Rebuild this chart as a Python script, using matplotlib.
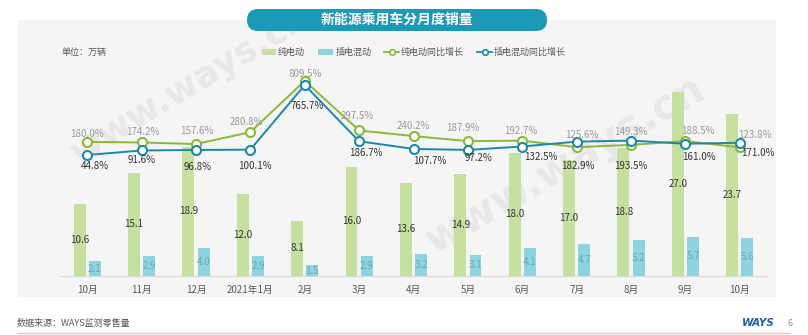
import matplotlib
matplotlib.use("Agg")
import matplotlib.pyplot as plt
from matplotlib.patches import Rectangle, FancyBboxPatch
from matplotlib.lines import Line2D

plt.rcParams['font.family'] = ['Noto Sans CJK SC', 'DejaVu Sans']

# data (万辆, %)
months = ['10月', '11月', '12月', '2021年1月', '2月', '3月', '4月',
          '5月', '6月', '7月', '8月', '9月', '10月']
bev = [10.6, 15.1, 18.9, 12.0, 8.1, 16.0, 13.6, 14.9, 18.0, 17.0, 18.8, 27.0, 23.7]
phev = [2.1, 2.9, 4.0, 2.9, 1.5, 2.9, 3.2, 3.1, 4.1, 4.7, 5.2, 5.7, 5.6]
bev_yoy = [180.0, 174.2, 157.6, 280.8, 809.5, 297.5, 240.2, 187.9, 192.7, 125.6, 149.3, 188.5, 123.8]
phev_yoy = [44.8, 91.6, 96.8, 100.1, 765.7, 186.7, 107.7, 97.2, 132.5, 182.9, 193.5, 161.0, 171.0]

# label nudges in pixels (dx, dy)
bev_off = [(0, 8), (1, 10), (1, 13), (-4, 10), (0, 7), (-2, 14), (0, 10),
           (-5, 13), (-2, 10), (5, 12), (0, 13), (12, 10), (15, 12)]
phev_off = [(8, -11), (0, -10), (2, -17), (5, -16), (2, -21), (7, -12), (16, -12),
            (11, -8), (19, -10), (1, -24), (0, -25), (13, -13), (18, -10)]

c_bev = '#c5e0a0'
c_phev = '#8ed4de'
c_bev_line = '#8ab83a'
c_phev_line = '#1f87aa'

W, H = 808, 335
fig = plt.figure(figsize=(W / 100, H / 100), dpi=100)
tr = fig.dpi_scale_trans


def px(x, y):
    return x / 100, (H - y) / 100


# grey panel
fig.patches.append(Rectangle(px(17, 297), 7.59, 2.77, transform=tr,
                             facecolor='#f5f5f5', edgecolor='none', zorder=0))

# watermark
fig.text(*px(190, 85), 'www.ways.cn', transform=tr, rotation=31, fontsize=26,
         fontweight='bold', color='#d8d8d8', alpha=0.45, ha='center', va='center',
         family='DejaVu Sans', zorder=1)
fig.text(*px(565, 165), 'www.ways.cn', transform=tr, rotation=30, fontsize=30,
         fontweight='bold', color='#d8d8d8', alpha=0.45, ha='center', va='center',
         family='DejaVu Sans', zorder=1)

# title pill
fig.patches.append(FancyBboxPatch(px(247, 31), 3.0, 0.22, transform=tr,
                                  boxstyle='round,pad=0,rounding_size=0.11',
                                  facecolor='#1b9ab6', edgecolor='none', zorder=2))
fig.text(*px(397, 20), '新能源乘用车分月度销量', transform=tr, color='white',
         fontsize=10, fontweight='bold', ha='center', va='center', zorder=3)

fig.text(*px(62, 52), '单位：万辆', transform=tr, fontsize=6.5, color='#595959',
         va='center')

# legend
fig.patches.append(Rectangle(px(262, 55), 0.14, 0.06, transform=tr,
                             facecolor=c_bev, edgecolor='none'))
fig.text(*px(278, 52), '纯电动', transform=tr, fontsize=6.5, color='#595959', va='center')
fig.patches.append(Rectangle(px(318, 55), 0.15, 0.06, transform=tr,
                             facecolor=c_phev, edgecolor='none'))
fig.text(*px(336, 52), '插电混动', transform=tr, fontsize=6.5, color='#595959', va='center')
for x0, col, lab in [(384, c_bev_line, '纯电动同比增长'), (477, c_phev_line, '插电混动同比增长')]:
    xa, ya = px(x0, 52)
    fig.lines.append(Line2D([xa, xa + 0.15], [ya, ya], transform=tr, color=col, lw=1.3))
    fig.lines.append(Line2D([xa + 0.075], [ya], transform=tr, color=col, marker='o',
                            ms=4, mfc='white', mec=col, mew=1.2, lw=0))
    fig.text(xa + 0.17, ya, lab, transform=tr, fontsize=6.5, color='#595959', va='center')

# main axes
ax = fig.add_axes([60 / W, (H - 275.7) / H, 707 / W, 215.7 / H])
ax.set_zorder(5)
ax.patch.set_alpha(0)
x = list(range(len(months)))
bw = 0.22
xb = [i - 0.14 for i in x]
xp = [i + 0.14 for i in x]
ax.bar(xb, bev, width=bw, color=c_bev, zorder=2)
ax.bar(xp, phev, width=bw, color=c_phev, zorder=2)
for xi, v in zip(xb, bev):
    ax.text(xi, v / 2, f'{v:.1f}', ha='center', va='center', fontsize=7, color='#333333', zorder=3)
for xi, v in zip(xp, phev):
    ax.text(xi, v / 2, f'{v:.1f}', ha='center', va='center', fontsize=7, color='#6aa8b8', zorder=3)

ax.set_xlim(-0.5, 12.5)
ax.set_ylim(0, 31.7)
ax.set_xticks(x)
ax.set_xticklabels(months, fontsize=7, color='#595959')
ax.tick_params(axis='x', length=0, pad=7)
ax.set_yticks([])
for s in ['top', 'left', 'right']:
    ax.spines[s].set_visible(False)
ax.spines['bottom'].set_color('#d9d9d9')

ax2 = ax.twinx()
ax2.set_zorder(6)
ax2.patch.set_visible(False)
ax2.set_ylim(-1199, 1024)
ax2.set_yticks([])
for s in ax2.spines.values():
    s.set_visible(False)
ax2.plot(x, bev_yoy, color=c_bev_line, lw=1.4, marker='o', ms=6.5, mfc='white',
         mec=c_bev_line, mew=1.5, zorder=4)
ax2.plot(x, phev_yoy, color=c_phev_line, lw=1.4, marker='o', ms=6.5, mfc='white',
         mec=c_phev_line, mew=1.5, zorder=5)
for xi, v, (dx, dy) in zip(x, bev_yoy, bev_off):
    ax2.annotate(f'{v:.1f}%', (xi, v), xytext=(dx, dy), textcoords='offset pixels',
                 ha='center', va='center', fontsize=7, color='#9a9a9a', zorder=6)
for xi, v, (dx, dy) in zip(x, phev_yoy, phev_off):
    ax2.annotate(f'{v:.1f}%', (xi, v), xytext=(dx, dy), textcoords='offset pixels',
                 ha='center', va='center', fontsize=7, color='#333333', zorder=6)

# footer
fig.text(*px(17, 323), '数据来源：WAYS监测零售量', transform=tr, fontsize=6.5,
         color='#595959', va='center')
fig.lines.append(Line2D([0.17, 7.9], [(H - 333) / 100] * 2, transform=tr,
                        color='#cfcfcf', lw=1))
fig.text(*px(775, 323), 'WAYS', transform=tr, fontsize=7.5, fontweight='bold',
         fontstyle='italic', color='#1e5fa8', va='center', ha='right', family='DejaVu Sans')
fig.text(*px(787, 323), '6', transform=tr, fontsize=6.5, color='#8c8c8c', va='center')

fig.savefig('out.png', dpi=100)
